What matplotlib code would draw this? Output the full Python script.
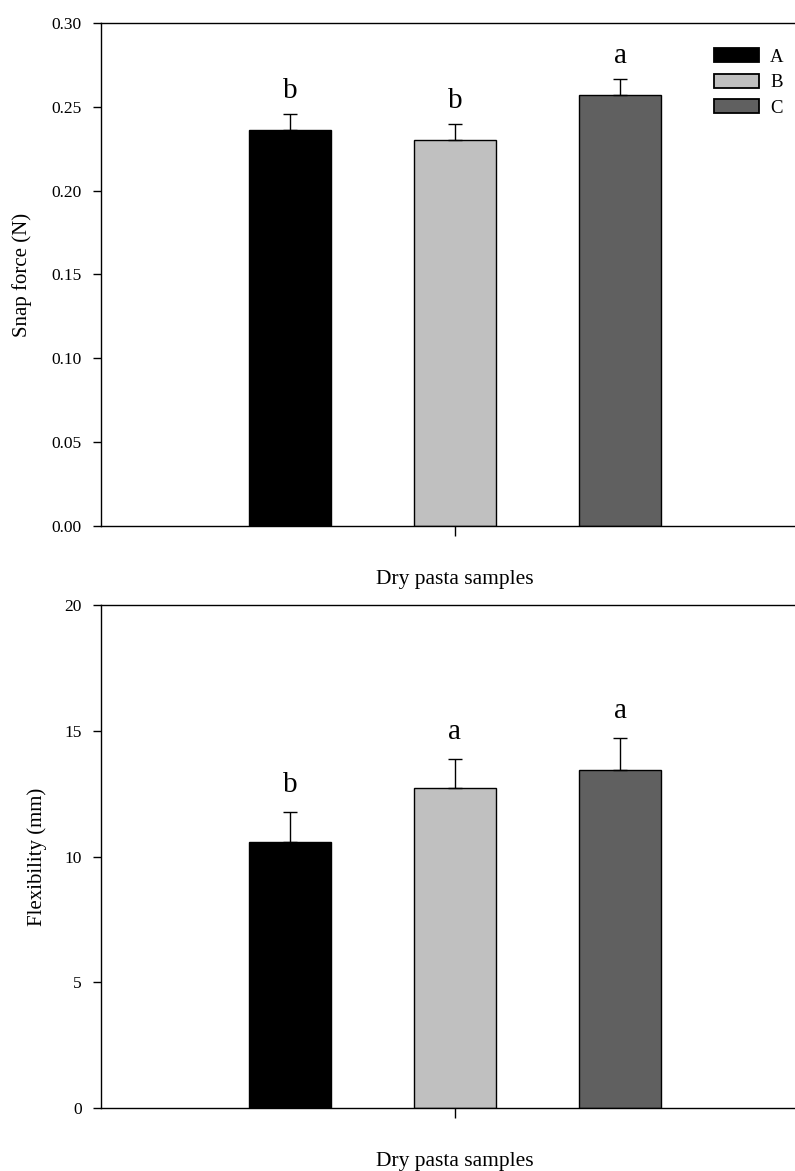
import numpy as np
import matplotlib
matplotlib.use("Agg")
import matplotlib.pyplot as plt
from matplotlib.patches import Patch

plt.rcParams['font.family'] = ['Liberation Serif', 'DejaVu Serif']

# data
samples = ['A', 'B', 'C']
colors = ['#000000', '#c0c0c0', '#606060']

snap_mean = [0.236, 0.230, 0.257]
snap_err = [0.0095, 0.0095, 0.0095]
snap_letters = ['b', 'b', 'a']

flex_mean = [10.56, 12.74, 13.45]
flex_err = [1.23, 1.15, 1.27]
flex_letters = ['b', 'a', 'a']


def panel(ax, means, errs, letters, ylim, yticks, ylabel, fmt, letter_pad, label_x):
    x = np.arange(len(means))
    ax.bar(x, means, width=0.5, color=colors, edgecolor='black', linewidth=1.0, zorder=2)
    ax.errorbar(x, means, yerr=[np.zeros(len(errs)), errs], fmt='none',
                ecolor='black', elinewidth=1.0, capsize=5, capthick=1.0, zorder=3)
    # significance letters
    for xi, m, e, t in zip(x, means, errs, letters):
        ax.annotate(t, (xi, m + e), xytext=(0, letter_pad), textcoords='offset points',
                    ha='center', va='baseline', fontsize=21)
    ax.set_xlim(-1.145, 3.145)
    ax.set_ylim(*ylim)
    ax.set_yticks(yticks)
    ax.set_yticklabels([fmt.format(v) for v in yticks], fontsize=12.5)
    ax.set_xticks([1])
    ax.set_xticklabels([''])
    ax.tick_params(axis='y', direction='out', length=6, width=1, pad=8)
    ax.tick_params(axis='x', direction='out', length=7, width=1)
    ax.spines['right'].set_visible(False)
    for s in ['left', 'top', 'bottom']:
        ax.spines[s].set_linewidth(1.0)
    ax.set_ylabel(ylabel, fontsize=15)
    ax.yaxis.set_label_coords(label_x, 0.5)
    ax.set_xlabel('Dry pasta samples', fontsize=15.5)
    ax.xaxis.set_label_coords(0.5, -0.088)


fig = plt.figure(figsize=(7.95, 11.71), dpi=100)
ax1 = fig.add_axes([0.127, 0.5508, 0.8906, 0.4296])
ax2 = fig.add_axes([0.127, 0.0538, 0.8906, 0.4295])

panel(ax1, snap_mean, snap_err, snap_letters, (0, 0.30),
      np.arange(0, 0.301, 0.05), 'Snap force (N)', '{:.2f}', 11.5, -0.098)
panel(ax2, flex_mean, flex_err, flex_letters, (0, 20),
      np.arange(0, 21, 5), 'Flexibility (mm)', '{:.0f}', 14, -0.076)

handles = [Patch(facecolor=c, edgecolor='black', linewidth=1.3) for c in colors]
ax1.legend(handles, samples, loc='upper left', bbox_to_anchor=(0.898, 0.959),
           bbox_transform=fig.transFigure, frameon=False, fontsize=13.5,
           handlelength=2.4, handleheight=0.8, labelspacing=0.42,
           handletextpad=0.6, borderaxespad=0, borderpad=0)

fig.savefig('out.png', dpi=100)
